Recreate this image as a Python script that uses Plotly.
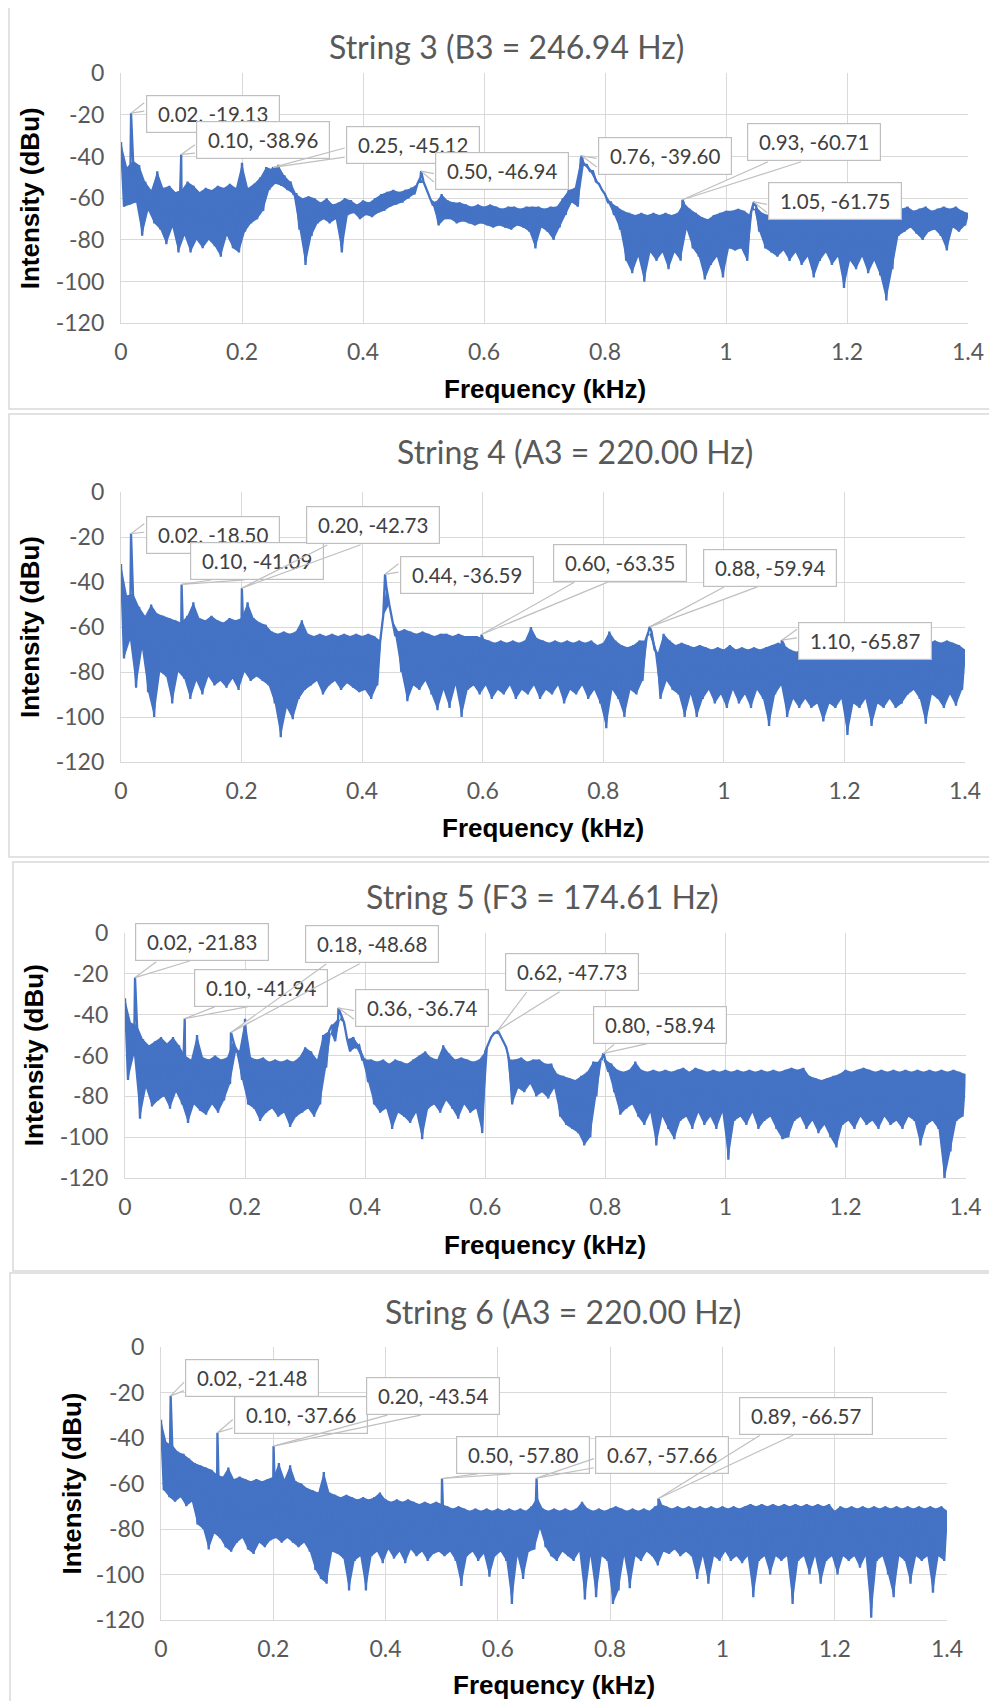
import numpy as np
import plotly.graph_objects as go

FIG_W, FIG_H = 997, 1701
PAGE_OFFSET = 8  # the page body margin that the figure sits inside

# ---------------- data ----------------
freq_step_khz = 0.005
n_grid = 281

x_tick_vals = [0, 0.2, 0.4, 0.6, 0.8, 1.0, 1.2, 1.4]
x_tick_text = ["0", "0.2", "0.4", "0.6", "0.8", "1", "1.2", "1.4"]
y_tick_vals = [0, -20, -40, -60, -80, -100, -120]
y_tick_text = ["0", "-20", "-40", "-60", "-80", "-100", "-120"]

chart_titles = ["String 3 (B3 = 246.94 Hz)", "String 4 (A3 = 220.00 Hz)",
                "String 5 (F3 = 174.61 Hz)", "String 6 (A3 = 220.00 Hz)"]
x_title = "Frequency (kHz)"
y_title = "Intensity (dBu)"

# spectrum, one value every 0.005 kHz (band top / band bottom)
s3_noise_db = [
    -33, -64, -45, -63, -42, -62, -44, -78, -52, -66, -56, -72, -47, -75, -55, -82, -54, -74, -57, -86,
    -56, -78, -52, -86, -54, -80, -57, -84, -55, -80, -56, -83, -54, -88, -55, -78, -53, -84, -55, -86,
    -43, -76, -55, -72, -53, -70, -50, -66, -45, -56, -46, -53, -44, -54, -49, -56, -52, -58, -58, -75,
    -60, -92, -59, -78, -60, -72, -62, -70, -60, -72, -63, -70, -62, -86, -60, -68, -61, -67, -63, -70,
    -61, -68, -62, -69, -60, -67, -58, -66, -57, -64, -56, -63, -57, -62, -56, -60, -55, -58, -53, -50,
    -52, -56, -60, -63, -62, -73, -58, -70, -61, -70, -62, -72, -62, -71, -63, -72, -64, -73, -63, -72,
    -64, -73, -63, -74, -64, -73, -65, -74, -64, -75, -64, -73, -65, -74, -64, -76, -64, -84, -64, -74,
    -65, -76, -64, -80, -64, -74, -60, -68, -56, -62, -55, -64, -41, -44, -44, -47, -47, -52, -53, -56,
    -58, -62, -62, -68, -64, -75, -66, -90, -67, -96, -68, -88, -67, -100, -68, -86, -67, -90, -68, -86,
    -67, -94, -68, -86, -67, -90, -62, -75, -65, -84, -67, -88, -69, -99, -70, -92, -68, -88, -67, -98,
    -66, -84, -66, -85, -65, -84, -66, -90, -68, -63, -64, -76, -67, -84, -68, -86, -70, -88, -69, -85,
    -68, -90, -70, -86, -69, -92, -70, -88, -69, -98, -70, -90, -69, -86, -70, -92, -69, -88, -70, -103,
    -68, -90, -69, -94, -70, -88, -69, -96, -68, -90, -69, -97, -70, -109, -68, -94, -64, -78, -65, -76,
    -64, -74, -66, -77, -65, -80, -64, -76, -66, -75, -65, -78, -64, -85, -65, -74, -64, -76, -66, -73,
    -67,
]
s3_peak_khz = [0.0166, 0.0995, 0.2517, 0.496, 0.7615, 0.928, 1.046]
s3_peak_db = [-19.13, -38.96, -45.12, -46.94, -39.60, -60.71, -61.75]
s3_peak_text = ["0.02, -19.13", "0.10, -38.96", "0.25, -45.12", "0.50, -46.94",
                "0.76, -39.60", "0.93, -60.71", "1.05, -61.75"]

s4_noise_db = [
    -32, -74, -46, -66, -45, -87, -51, -70, -55, -89, -50, -100, -54, -80, -55, -82, -56, -94, -57, -80,
    -58, -83, -55, -92, -49, -84, -56, -90, -57, -82, -55, -86, -57, -84, -58, -87, -56, -83, -57, -88,
    -56, -80, -49, -84, -56, -82, -58, -84, -59, -86, -62, -94, -63, -109, -62, -96, -63, -101, -62, -92,
    -57, -88, -63, -86, -64, -84, -63, -90, -64, -86, -63, -84, -64, -88, -63, -85, -64, -87, -63, -89,
    -64, -88, -63, -92, -64, -86, -66, -55, -42, -50, -57, -64, -62, -80, -61, -93, -62, -86, -63, -88,
    -62, -84, -63, -90, -64, -97, -63, -88, -63, -96, -64, -86, -63, -100, -64, -88, -64, -86, -64, -90,
    -65, -86, -66, -92, -67, -88, -66, -90, -67, -86, -66, -92, -67, -88, -66, -90, -60, -86, -65, -92,
    -66, -88, -67, -90, -66, -86, -67, -94, -66, -88, -67, -90, -66, -86, -67, -92, -66, -88, -68, -94,
    -67, -105, -62, -88, -66, -92, -68, -100, -69, -88, -68, -90, -66, -84, -66, -62, -62, -70, -72, -92,
    -63, -84, -66, -88, -68, -90, -67, -100, -68, -90, -69, -100, -68, -92, -69, -88, -70, -94, -69, -90,
    -70, -96, -68, -88, -70, -94, -69, -90, -70, -96, -69, -88, -70, -92, -69, -104, -68, -90, -67, -86,
    -68, -100, -70, -92, -71, -96, -70, -92, -71, -96, -70, -94, -71, -102, -70, -94, -71, -96, -70, -92,
    -71, -108, -70, -94, -71, -96, -70, -92, -71, -104, -70, -94, -71, -96, -70, -92, -71, -96, -70, -94,
    -72, -90, -73, -88, -70, -92, -68, -103, -67, -90, -66, -92, -67, -96, -66, -90, -67, -95, -68, -88,
    -70,
]
s4_peak_khz = [0.0166, 0.1005, 0.2005, 0.438, 0.598, 0.877, 1.096]
s4_peak_db = [-18.50, -41.09, -42.73, -36.59, -63.35, -59.94, -65.87]
s4_peak_text = ["0.02, -18.50", "0.10, -41.09", "0.20, -42.73", "0.44, -36.59",
                "0.60, -63.35", "0.88, -59.94", "1.10, -65.87"]

s5_noise_db = [
    -32, -72, -44, -60, -45, -91, -52, -76, -55, -85, -53, -82, -51, -80, -54, -86, -51, -78, -55, -84,
    -60, -93, -62, -84, -50, -87, -61, -89, -62, -84, -60, -88, -62, -82, -61, -74, -53, -58, -58, -72,
    -42, -84, -61, -86, -62, -92, -61, -88, -63, -86, -62, -90, -63, -88, -62, -95, -63, -90, -61, -88,
    -56, -86, -58, -90, -62, -84, -50, -66, -48, -45, -53, -42, -40, -44, -52, -58, -51, -56, -55, -62,
    -62, -73, -62, -84, -63, -88, -62, -86, -64, -96, -62, -88, -63, -90, -64, -93, -62, -88, -60, -101,
    -58, -86, -61, -84, -62, -88, -55, -82, -59, -86, -62, -91, -61, -84, -62, -88, -63, -86, -62, -98,
    -58, -54, -51, -49, -48.5, -50, -53, -56, -62, -84, -62, -76, -61, -78, -63, -74, -62, -80, -62, -78,
    -64, -81, -64, -76, -69, -90, -70, -94, -71, -96, -72, -98, -70, -104, -68, -100, -63, -80, -63, -61,
    -62, -68, -64, -78, -67, -89, -68, -86, -67, -84, -63, -90, -67, -94, -68, -88, -67, -104, -68, -90,
    -67, -96, -68, -101, -67, -92, -66, -90, -68, -96, -66, -88, -67, -94, -68, -90, -67, -96, -68, -88,
    -67, -111, -68, -92, -67, -90, -68, -94, -67, -88, -68, -96, -67, -92, -68, -90, -67, -96, -68, -101,
    -67, -100, -66, -92, -67, -90, -66, -96, -70, -92, -71, -98, -72, -94, -71, -100, -70, -105, -69, -94,
    -67, -92, -68, -96, -67, -90, -66, -94, -67, -92, -68, -96, -67, -90, -68, -94, -67, -92, -68, -96,
    -67, -90, -68, -92, -67, -104, -68, -94, -67, -92, -68, -96, -67, -121, -68, -107, -67, -92, -68, -90,
    -69,
]
s5_peak_khz = [0.0167, 0.0995, 0.1765, 0.3555, 0.621, 0.797]
s5_peak_db = [-21.83, -41.94, -48.68, -36.74, -47.73, -58.94]
s5_peak_text = ["0.02, -21.83", "0.10, -41.94", "0.18, -48.68", "0.36, -36.74",
                "0.62, -47.73", "0.80, -58.94"]

s6_noise_db = [
    -32, -63, -42, -66, -43, -68, -46, -66, -47, -70, -49, -68, -51, -78, -52, -80, -53, -89, -54, -82,
    -56, -84, -57, -88, -53, -90, -58, -86, -57, -84, -58, -89, -59, -91, -58, -86, -59, -88, -58, -85,
    -57, -84, -51, -86, -58, -84, -52, -86, -59, -88, -60, -86, -62, -90, -63, -98, -64, -102, -55, -104,
    -64, -90, -65, -91, -66, -93, -65, -107, -66, -94, -67, -92, -66, -107, -67, -92, -66, -90, -64, -95,
    -67, -89, -68, -93, -67, -90, -68, -95, -67, -89, -68, -92, -69, -90, -68, -94, -69, -91, -68, -90,
    -69, -92, -70, -90, -71, -94, -70, -105, -71, -92, -72, -90, -71, -94, -72, -91, -71, -101, -72, -92,
    -71, -90, -72, -94, -71, -113, -72, -92, -71, -102, -72, -90, -70, -89, -66, -80, -71, -88, -72, -92,
    -71, -94, -72, -90, -71, -92, -72, -94, -71, -90, -68, -111, -71, -92, -72, -110, -71, -92, -72, -94,
    -71, -113, -70, -107, -71, -92, -72, -106, -71, -92, -72, -94, -71, -90, -72, -92, -70, -96, -69, -90,
    -70, -91, -71, -89, -70, -92, -71, -90, -70, -92, -71, -102, -70, -92, -71, -104, -70, -92, -71, -94,
    -70, -90, -71, -94, -70, -92, -71, -95, -70, -92, -69, -110, -70, -94, -69, -92, -70, -100, -69, -92,
    -70, -94, -69, -92, -70, -113, -69, -94, -70, -92, -69, -100, -70, -92, -69, -104, -70, -94, -69, -92,
    -72, -100, -70, -92, -71, -94, -70, -92, -71, -97, -70, -92, -71, -119, -70, -94, -71, -92, -70, -100,
    -71, -110, -70, -92, -71, -94, -70, -104, -71, -92, -70, -94, -71, -92, -70, -108, -71, -92, -70, -94,
    -72,
]
s6_peak_khz = [0.0172, 0.1005, 0.2005, 0.5005, 0.669, 0.886]
s6_peak_db = [-21.48, -37.66, -43.54, -57.80, -57.66, -66.57]
s6_peak_text = ["0.02, -21.48", "0.10, -37.66", "0.20, -43.54", "0.50, -57.80",
                "0.67, -57.66", "0.89, -66.57"]

# ---------------- layout (pixel positions on the 997x1701 page) ----------------
panels = [
    dict(noise=s3_noise_db, pf=s3_peak_khz, pdb=s3_peak_db, ptxt=s3_peak_text,
         plot=(121, 73.3, 968, 323.3), frame=(9, 7, 1020, 409),
         title=(506, 46.7), ytitle=(30, 198.3), xtitle=(544.5, 389.3),
         boxes=[(212.5, 114), (263.3, 140.5), (413, 144.5), (502.2, 170.8),
                (665, 155.5), (813.7, 142.5), (835.3, 201.5)]),
    dict(noise=s4_noise_db, pf=s4_peak_khz, pdb=s4_peak_db, ptxt=s4_peak_text,
         plot=(121, 492, 965, 762), frame=(9, 414, 1020, 857),
         title=(575, 451.7), ytitle=(30, 627), xtitle=(543, 828.3),
         boxes=[(212.5, 535.2), (257.3, 561), (373.3, 525.5), (466.7, 575),
                (620.3, 562.7), (770, 567.5), (865.3, 640.8)]),
    dict(noise=s5_noise_db, pf=s5_peak_khz, pdb=s5_peak_db, ptxt=s5_peak_text,
         plot=(125, 933, 965.5, 1178), frame=(13, 862, 993, 1271),
         title=(542.6, 896.7), ytitle=(33.7, 1055.5), xtitle=(545, 1245),
         boxes=[(202.3, 941.8), (260.7, 987.5), (372.3, 944.2), (422.3, 1007.8),
                (572.2, 972), (660, 1024.5)]),
    dict(noise=s6_noise_db, pf=s6_peak_khz, pdb=s6_peak_db, ptxt=s6_peak_text,
         plot=(161, 1347, 947, 1620), frame=(10, 1273, 993, 1720),
         title=(562.6, 1311.7), ytitle=(71, 1483.5), xtitle=(554, 1685),
         boxes=[(252.3, 1377.5), (301, 1415), (433.3, 1396), (523.3, 1455),
                (662.2, 1455), (805.7, 1415.8)]),
]
BOX_W, BOX_H = 133.5, 37.5

X_MAX, Y_MIN = 1.4, -120
LINE_COLOR = "#4472C4"
GRID_COLOR = "#d9d9d9"
CALLOUT_GRAY = "#bfbfbf"
TEXT_GRAY = "#595959"
CAL_FONT = "Lato, 'Open Sans', sans-serif"
BOLD_FONT = "'Liberation Sans', Arial, sans-serif"


def px2x(px):
    return (px - PAGE_OFFSET) / FIG_W


def px2y(py):
    return 1 - (py - PAGE_OFFSET) / FIG_H


def wedge_base(cx, cy, tx, ty):
    """Two points on the callout box edge where the pointer wedge starts."""
    w, h = BOX_W, BOX_H
    left, top = cx - w / 2, cy - h / 2
    dx, dy = tx - cx, ty - cy
    if abs(dy) / h > abs(dx) / w:
        xa = left + w * (2 / 12 if dx < 0 else 7 / 12)
        xb = left + w * (5 / 12 if dx < 0 else 10 / 12)
        ye = top + h if dy > 0 else top
        return (xa, ye), (xb, ye)
    ya = top + h * (2 / 12 if dy < 0 else 7 / 12)
    yb = top + h * (5 / 12 if dy < 0 else 10 / 12)
    xe = left if dx < 0 else left + w
    return (xe, ya), (xe, yb)


grid_khz = np.round(np.arange(n_grid) * freq_step_khz, 4)

fig = go.Figure()
annotations = []
shapes = []
layout_axes = {}

for i, p in enumerate(panels, start=1):
    assert len(p["noise"]) == n_grid
    noise = np.array(p["noise"], dtype=float)
    xa = "x" if i == 1 else f"x{i}"
    ya = "y" if i == 1 else f"y{i}"

    # solid noise band: fill between band-bottom samples and band-top samples
    fig.add_trace(go.Scatter(x=grid_khz[1::2], y=noise[1::2], mode="lines",
                             line=dict(width=0, color=LINE_COLOR),
                             xaxis=xa, yaxis=ya, showlegend=False, hoverinfo="skip"))
    fig.add_trace(go.Scatter(x=grid_khz[0::2], y=noise[0::2], mode="lines",
                             line=dict(width=0, color=LINE_COLOR),
                             fill="tonexty", fillcolor=LINE_COLOR,
                             xaxis=xa, yaxis=ya, showlegend=False, hoverinfo="skip"))

    # the spectrum line itself, with the labelled peaks
    f_all = np.concatenate([grid_khz, np.array(p["pf"], dtype=float)])
    d_all = np.concatenate([noise, np.array(p["pdb"], dtype=float)])
    order = np.argsort(f_all, kind="stable")
    fig.add_trace(go.Scatter(x=f_all[order], y=d_all[order], mode="lines",
                             line=dict(color=LINE_COLOR, width=2.3),
                             xaxis=xa, yaxis=ya, showlegend=False, hoverinfo="skip"))

    L, T, R, B = p["plot"]
    xkey = "xaxis" if i == 1 else f"xaxis{i}"
    ykey = "yaxis" if i == 1 else f"yaxis{i}"
    layout_axes[xkey] = dict(
        domain=[px2x(L), px2x(R)], anchor=ya, range=[0, X_MAX],
        tickvals=x_tick_vals, ticktext=x_tick_text, automargin=False,
        showgrid=True, gridcolor=GRID_COLOR, gridwidth=1.3,
        showline=True, linecolor=GRID_COLOR, linewidth=1.3, zeroline=False,
        ticks="", ticklabelstandoff=8,
        tickfont=dict(family=CAL_FONT, size=23, color=TEXT_GRAY),
    )
    layout_axes[ykey] = dict(
        domain=[px2y(B), px2y(T)], anchor=xa, range=[Y_MIN, 0],
        tickvals=y_tick_vals, ticktext=y_tick_text, automargin=False,
        showgrid=True, gridcolor=GRID_COLOR, gridwidth=1.3,
        showline=True, linecolor=GRID_COLOR, linewidth=1.3, zeroline=False,
        ticks="", ticklabelstandoff=11,
        tickfont=dict(family=CAL_FONT, size=23, color=TEXT_GRAY),
    )

    # chart-area frame
    fx0, fy0, fx1, fy1 = p["frame"]
    shapes.append(dict(type="rect", xref="paper", yref="paper", layer="below",
                       x0=px2x(fx0), x1=px2x(fx1), y0=px2y(fy1), y1=px2y(fy0),
                       line=dict(color=GRID_COLOR, width=1.5), fillcolor="rgba(0,0,0,0)"))

    # titles
    annotations.append(dict(text=chart_titles[i - 1], xref="paper", yref="paper",
                            x=px2x(p["title"][0]), y=px2y(p["title"][1]),
                            xanchor="center", yanchor="middle", showarrow=False,
                            font=dict(family=CAL_FONT, size=32, color=TEXT_GRAY)))
    annotations.append(dict(text=f"<b>{y_title}</b>", xref="paper", yref="paper",
                            x=px2x(p["ytitle"][0]), y=px2y(p["ytitle"][1]), textangle=-90,
                            xanchor="center", yanchor="middle", showarrow=False,
                            font=dict(family=BOLD_FONT, size=26, color="#000000")))
    annotations.append(dict(text=f"<b>{x_title}</b>", xref="paper", yref="paper",
                            x=px2x(p["xtitle"][0]), y=px2y(p["xtitle"][1]),
                            xanchor="center", yanchor="middle", showarrow=False,
                            font=dict(family=BOLD_FONT, size=26, color="#000000")))

    # data-label callouts: white wedge + box with text + two wedge edges
    for fk, db, txt, (cx, cy) in zip(p["pf"], p["pdb"], p["ptxt"], p["boxes"]):
        tx = L + fk / X_MAX * (R - L)
        ty = T + (db / Y_MIN) * (B - T)
        b1, b2 = wedge_base(cx, cy, tx, ty)

        def to_data(pt):
            return ((pt[0] - L) / (R - L) * X_MAX, (pt[1] - T) / (B - T) * Y_MIN)

        d1, d2 = to_data(b1), to_data(b2)
        shapes.append(dict(type="path", xref=xa, yref=ya, layer="above",
                           path=f"M {fk},{db} L {d1[0]},{d1[1]} L {d2[0]},{d2[1]} Z",
                           fillcolor="white", line=dict(width=0)))
        annotations.append(dict(
            x=px2x(cx), y=px2y(cy), xref="paper", yref="paper", text=txt, showarrow=False,
            xanchor="center", yanchor="middle",
            bgcolor="white", bordercolor=CALLOUT_GRAY, borderwidth=1.2, borderpad=1,
            width=130, height=34, align="center", valign="middle",
            font=dict(family=CAL_FONT, size=20.5, color="#404040")))
        for bx, by in (b1, b2):
            annotations.append(dict(
                x=fk, y=db, xref=xa, yref=ya, text="", showarrow=True,
                axref="pixel", ayref="pixel", ax=bx - tx, ay=by - ty,
                arrowhead=0, arrowwidth=1.2, arrowcolor=CALLOUT_GRAY, standoff=0,
                font=dict(size=1)))

fig.update_layout(
    width=FIG_W, height=FIG_H,
    margin=dict(l=0, r=0, t=0, b=0, pad=0, autoexpand=False),
    paper_bgcolor="white", plot_bgcolor="white",
    annotations=annotations, shapes=shapes, showlegend=False,
    **layout_axes,
)

fig.write_html("out.html")
